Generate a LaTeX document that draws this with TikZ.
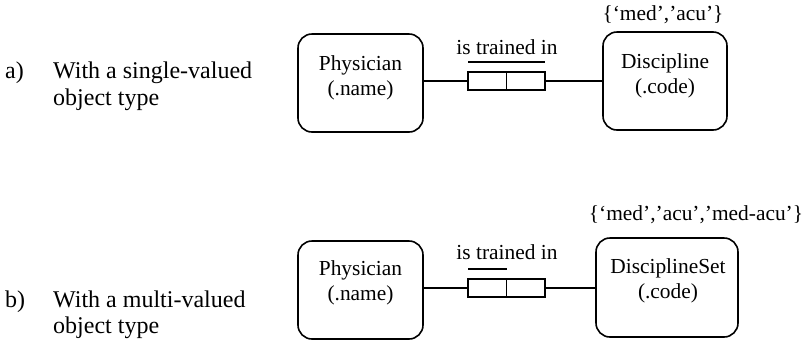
\documentclass[tikz,border=0pt]{standalone}
\usepackage{fontspec}
\setmainfont{Liberation Serif}
\usetikzlibrary{calc}
\begin{document}
\begin{tikzpicture}[x=1pt,y=-1pt,
  objbox/.style={draw,line width=1.6pt,rounded corners=14pt,inner sep=0pt,outer sep=0pt},
  rolebox/.style={draw,line width=1.3pt,inner sep=0pt,outer sep=0pt,minimum width=38.5pt,minimum height=18pt},
  conn/.style={line width=1.3pt},
  ubar/.style={line width=1.3pt},
  lbl/.style={font=\fontsize{21.4}{25}\selectfont,align=center,inner sep=0pt},
  side/.style={font=\fontsize{24}{27}\selectfont,inner sep=0pt,anchor=base west}]
\useasboundingbox (0,0) rectangle (803,341);

% (a) single-valued object type
\node[side] (tagA) at (5,78) {a)};
\node[side] (descA1) at (53,78) {With a single-valued};
\node[side] (descA2) at (53,105) {object type};

\node[objbox,minimum width=125pt,minimum height=98pt] (phys1) at (360.5,83) {};
\node[lbl] (phys1t) at (360.5,78) {Physician\\(.name)};
\node[objbox,minimum width=124pt,minimum height=98pt] (disc1) at (665,81) {};
\node[lbl] (disc1t) at (665,76) {Discipline\\(.code)};
\node[lbl] (vals1) at (663,15) {\{‘med’,’acu’\}};

\node[rolebox] (r1a) at (487.25,81) {};
\node[rolebox] (r1b) at (525.75,81) {};
\node[lbl] (fact1) at (507,47) {is trained in};
\draw[ubar] ($(r1a.north west)+(0,-10)$) -- ($(r1b.north east)+(0,-10)$);
\draw[conn] (phys1.east |- r1a.west) -- (r1a.west);
\draw[conn] (r1b.east) -- (disc1.west |- r1b.east);

% (b) multi-valued object type
\node[side] (tagB) at (5,307) {b)};
\node[side] (descB1) at (53,307) {With a multi-valued};
\node[side] (descB2) at (53,333) {object type};

\node[objbox,minimum width=125pt,minimum height=98pt] (phys2) at (360.5,290) {};
\node[lbl] (phys2t) at (360.5,283) {Physician\\(.name)};
\node[objbox,minimum width=142pt,minimum height=99pt] (disc2) at (667,287.5) {};
\node[lbl] (disc2t) at (668,281) {DisciplineSet\\(.code)};
\node[lbl] (vals2) at (696,215) {\{‘med’,’acu’,’med-acu’\}};

\node[rolebox] (r2a) at (487.25,288) {};
\node[rolebox] (r2b) at (525.75,288) {};
\node[lbl] (fact2) at (507,252) {is trained in};
\draw[ubar] ($(r2a.north west)+(0,-10)$) -- ($(r2a.north east)+(0,-10)$);
\draw[conn] (phys2.east |- r2a.west) -- (r2a.west);
\draw[conn] (r2b.east) -- (disc2.west |- r2b.east);
\end{tikzpicture}
\end{document}
